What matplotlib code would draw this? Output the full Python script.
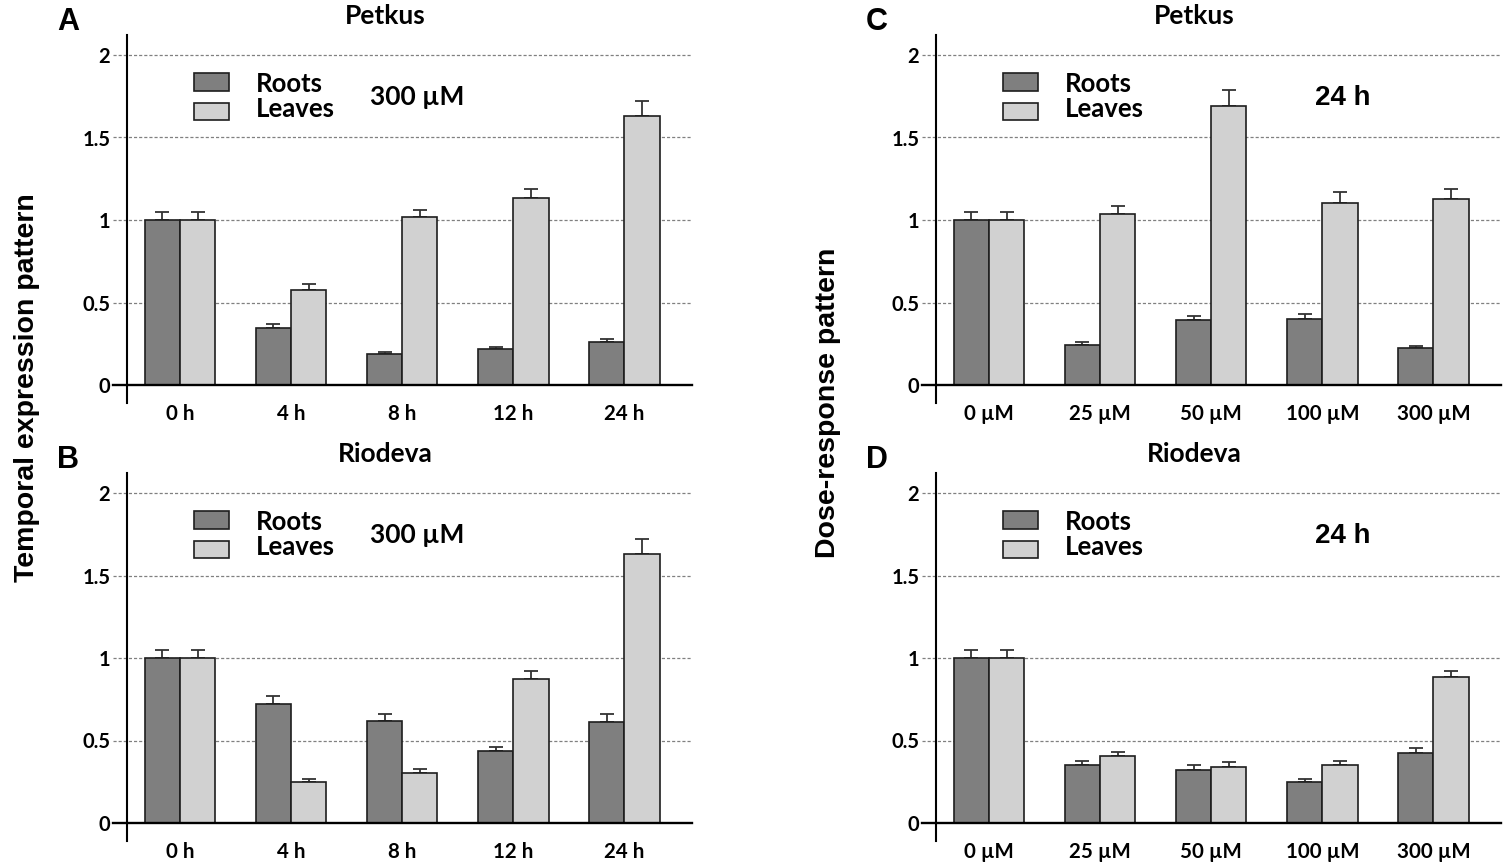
import numpy as np
import matplotlib
matplotlib.use("Agg")
import matplotlib.pyplot as plt
from matplotlib.patches import Rectangle
from matplotlib.ticker import FormatStrFormatter

# ---- data (relative expression, mean and upper SE) ----
time_labels = ["0 h", "4 h", "8 h", "12 h", "24 h"]
dose_labels = ["0 \u00b5M", "25 \u00b5M", "50 \u00b5M", "100 \u00b5M", "300 \u00b5M"]
series_names = ["Roots", "Leaves"]

# A: Petkus, 300 uM, time course
a_roots = [1.00, 0.345, 0.186, 0.216, 0.259]
a_roots_err = [0.05, 0.024, 0.012, 0.012, 0.018]
a_leaves = [1.00, 0.576, 1.016, 1.135, 1.632]
a_leaves_err = [0.05, 0.038, 0.046, 0.050, 0.089]

# B: Riodeva, 300 uM, time course
b_roots = [1.00, 0.722, 0.621, 0.435, 0.613]
b_roots_err = [0.05, 0.047, 0.040, 0.026, 0.050]
b_leaves = [1.00, 0.251, 0.304, 0.874, 1.633]
b_leaves_err = [0.05, 0.014, 0.024, 0.049, 0.090]

# C: Petkus, 24 h, dose response
c_roots = [1.00, 0.243, 0.392, 0.403, 0.223]
c_roots_err = [0.05, 0.016, 0.025, 0.030, 0.014]
c_leaves = [1.00, 1.035, 1.693, 1.104, 1.125]
c_leaves_err = [0.05, 0.049, 0.097, 0.065, 0.060]

# D: Riodeva, 24 h, dose response
d_roots = [1.00, 0.354, 0.322, 0.250, 0.425]
d_roots_err = [0.05, 0.024, 0.028, 0.015, 0.030]
d_leaves = [1.00, 0.408, 0.337, 0.352, 0.883]
d_leaves_err = [0.05, 0.020, 0.035, 0.022, 0.039]

# ---- style ----
W, H = 1505, 863
PX_PER_UNIT = 165.0
Y_LO, Y_HI = -0.11, 2.12
AX_W = 565.0
AX_H = (Y_HI - Y_LO) * PX_PER_UNIT
BAR_W = 0.317
ROOT_C = "#7f7f7f"
LEAF_C = "#d1d1d1"
EDGE_C = "#1e1e1e"
ERR_C = "#333333"
CAL = ["Lato", "DejaVu Sans"]
ARIAL = ["Liberation Sans", "DejaVu Sans"]

fig = plt.figure(figsize=(W / 100, H / 100), dpi=100)


def make_axes(left_px, zero_px):
    top = zero_px - Y_HI * PX_PER_UNIT
    rect = [left_px / W, 1 - (top + AX_H) / H, AX_W / W, AX_H / H]
    return fig.add_axes(rect)


def ax_frac(dx, dy):
    # pixel offsets from the axes' top-left corner -> axes fraction
    return dx / AX_W, 1 - dy / AX_H


def draw_panel(ax, labels, roots, roots_err, leaves, leaves_err, note, note_kw):
    x = np.arange(len(labels))
    zeros = np.zeros(len(labels))
    ax.bar(x - BAR_W / 2, roots, BAR_W, color=ROOT_C, edgecolor=EDGE_C,
           linewidth=1.2, zorder=3)
    ax.bar(x + BAR_W / 2, leaves, BAR_W, color=LEAF_C, edgecolor=EDGE_C,
           linewidth=1.2, zorder=3)
    ax.errorbar(x - BAR_W / 2, roots, yerr=[zeros, roots_err], fmt="none",
                ecolor=ERR_C, elinewidth=1.3, capsize=4.7, capthick=1.3, zorder=2)
    ax.errorbar(x + BAR_W / 2, leaves, yerr=[zeros, leaves_err], fmt="none",
                ecolor=ERR_C, elinewidth=1.3, capsize=4.7, capthick=1.3, zorder=2)

    ax.set_xlim(-53 / 111.1, (AX_W - 53) / 111.1)
    ax.set_ylim(Y_LO, Y_HI)
    ax.set_xticks(x)
    ax.set_xticklabels(labels, fontfamily=CAL, fontweight="bold", fontsize=14.8)
    ax.set_yticks([0, 0.5, 1, 1.5, 2])
    ax.yaxis.set_major_formatter(FormatStrFormatter("%g"))
    for lab in ax.get_yticklabels():
        lab.set_fontfamily(CAL)
        lab.set_fontweight("bold")
        lab.set_fontsize(14.5)
    ax.tick_params(axis="y", length=0, pad=12)
    ax.tick_params(axis="x", length=0, pad=0.5)
    for side in ("top", "right", "bottom"):
        ax.spines[side].set_visible(False)
    ax.spines["left"].set_linewidth(1.5)
    ax.spines["left"].set_color("black")

    tick_ext = -14 / AX_W
    trans = ax.get_yaxis_transform()
    for yv in [0.5, 1, 1.5, 2]:
        ax.plot([tick_ext, 1], [yv, yv], transform=trans, color="#808080",
                lw=0.9, ls=(0, (2.5, 1.6)), clip_on=False, zorder=1)
    ax.plot([tick_ext, 1], [0, 0], transform=trans, color="black", lw=1.7,
            clip_on=False, zorder=4)

    # legend boxes + labels
    boxes = [(38, 56), (67.5, 84.5)]
    baselines = [56.8, 82.1]
    for name, color, (t, b), base in zip(series_names, [ROOT_C, LEAF_C], boxes, baselines):
        x0, y0 = ax_frac(67, b)
        x1, y1 = ax_frac(102, t)
        ax.add_patch(Rectangle((x0, y0), x1 - x0, y1 - y0, transform=ax.transAxes,
                               facecolor=color, edgecolor=EDGE_C, lw=1.2,
                               clip_on=False, zorder=5))
        tx, ty = ax_frac(129, base)
        ax.text(tx, ty, name, transform=ax.transAxes, ha="left", va="baseline",
                fontfamily=CAL, fontweight="bold", fontsize=18.5)

    nx, ny = ax_frac(note_kw.pop("dx"), 70)
    ax.text(nx, ny, note, transform=ax.transAxes, ha="left", va="baseline", **note_kw)


panels = [
    ("A", 127, 385, "Petkus", time_labels, a_roots, a_roots_err, a_leaves, a_leaves_err,
     "300 \u00b5M", dict(dx=243, fontfamily=CAL, fontweight="bold", fontsize=19)),
    ("B", 127, 823, "Riodeva", time_labels, b_roots, b_roots_err, b_leaves, b_leaves_err,
     "300 \u00b5M", dict(dx=243, fontfamily=CAL, fontweight="bold", fontsize=19)),
    ("C", 936, 385, "Petkus", dose_labels, c_roots, c_roots_err, c_leaves, c_leaves_err,
     "24 h", dict(dx=379, fontfamily=ARIAL, fontweight="bold", fontsize=20)),
    ("D", 936, 823, "Riodeva", dose_labels, d_roots, d_roots_err, d_leaves, d_leaves_err,
     "24 h", dict(dx=379, fontfamily=ARIAL, fontweight="bold", fontsize=20)),
]

for letter, left, zero, title, labels, r, re_, l, le, note, note_kw in panels:
    ax = make_axes(left, zero)
    draw_panel(ax, labels, r, re_, l, le, note, note_kw)
    fig.text((left + 258) / W, 1 - (zero - 361) / H, title, ha="center",
             va="baseline", fontfamily=CAL, fontweight="bold", fontsize=19)
    fig.text((left - 59) / W, 1 - (zero - 355) / H, letter, ha="center",
             va="baseline", fontfamily=ARIAL, fontweight="bold", fontsize=22)

fig.text(27.5 / W, 1 - 388 / H, "Temporal expression pattern", rotation=90,
         ha="center", va="center", fontfamily=ARIAL, fontweight="bold", fontsize=20.5)
fig.text(828 / W, 1 - 403 / H, "Dose-response pattern", rotation=90,
         ha="center", va="center", fontfamily=ARIAL, fontweight="bold", fontsize=20.5)

fig.savefig("out.png", dpi=100)
